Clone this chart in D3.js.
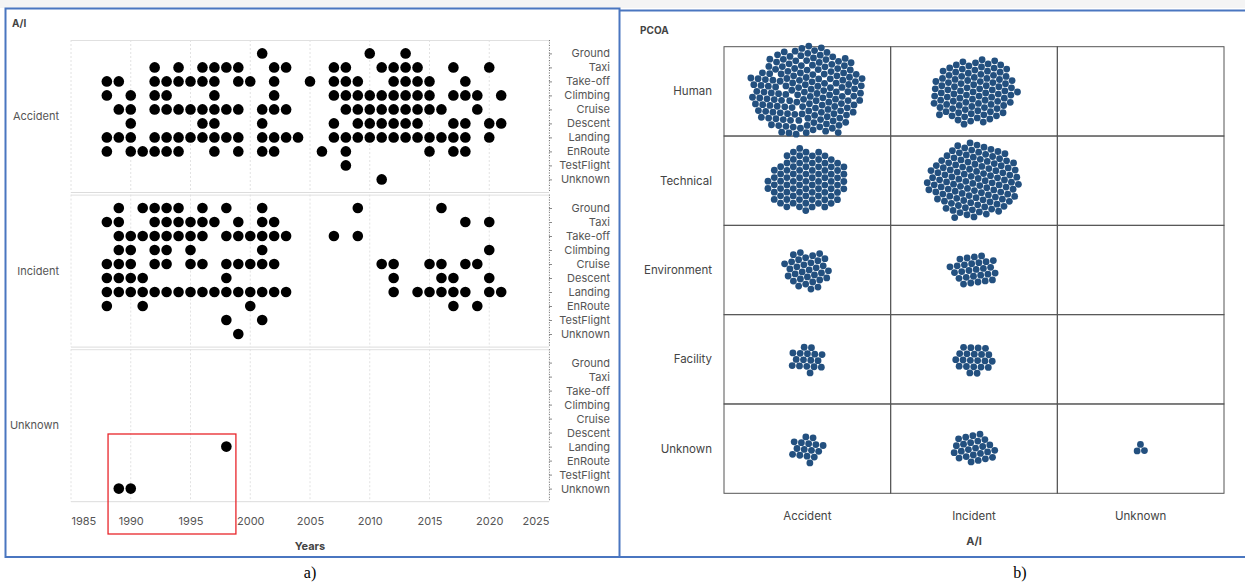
<!DOCTYPE html>
<html>
<head>
<meta charset="utf-8">
<script src="https://cdn.jsdelivr.net/npm/d3@7"></script>
<style>
  body { margin: 0; background: #fff; }
  text { font-family: Inter, "Noto Sans", sans-serif; }
</style>
</head>
<body>
<svg id="chart" width="1245" height="584"></svg>
<script>
// ---- data ----
var phases = ["Ground", "Taxi", "Take-off", "Climbing", "Cruise", "Descent", "Landing", "EnRoute", "TestFlight", "Unknown"];
var aiTypes = ["Accident", "Incident", "Unknown"];
var yearTicks = [1985, 1990, 1995, 2000, 2005, 2010, 2015, 2020, 2025];

// years with at least one event, one list per phase (same order as phases)
var accidentYears = [
  [2001, 2010, 2013],
  [1992, 1994, 1996, 1997, 1998, 1999, 2002, 2003, 2007, 2008, 2011, 2012, 2013, 2014, 2017, 2020],
  [1988, 1989, 1992, 1993, 1994, 1995, 1996, 1997, 1999, 2000, 2002, 2005, 2007, 2008, 2009, 2012, 2013, 2014, 2015, 2018],
  [1988, 1990, 1992, 1993, 1997, 2002, 2007, 2008, 2009, 2010, 2011, 2012, 2013, 2014, 2015, 2017, 2018, 2019, 2021],
  [1989, 1990, 1992, 1993, 1994, 1995, 1996, 1997, 1998, 1999, 2001, 2002, 2003, 2008, 2009, 2010, 2011, 2012, 2013, 2014, 2015, 2016, 2019],
  [1990, 1996, 1997, 2001, 2007, 2009, 2010, 2011, 2012, 2013, 2014, 2017, 2018, 2020, 2021],
  [1988, 1989, 1990, 1992, 1993, 1994, 1995, 1996, 1997, 1998, 1999, 2001, 2002, 2003, 2004, 2007, 2008, 2009, 2010, 2011, 2012, 2013, 2014, 2015, 2016, 2017, 2018, 2020],
  [1988, 1990, 1991, 1992, 1993, 1994, 1997, 1999, 2001, 2002, 2006, 2008, 2015, 2017, 2018],
  [2008],
  [2011]
];
var incidentYears = [
  [1989, 1991, 1992, 1993, 1994, 1996, 1998, 2001, 2009, 2016],
  [1988, 1989, 1992, 1993, 1994, 1995, 1996, 1997, 1999, 2001, 2002, 2018, 2020],
  [1989, 1990, 1991, 1992, 1993, 1994, 1995, 1996, 1998, 1999, 2000, 2001, 2002, 2003, 2007, 2009],
  [1989, 1990, 1992, 1993, 1995, 2001, 2020],
  [1988, 1989, 1990, 1992, 1993, 1995, 1996, 1998, 1999, 2000, 2001, 2002, 2011, 2012, 2015, 2016, 2018, 2019],
  [1988, 1989, 1990, 1991, 1998, 2012, 2016, 2017, 2020],
  [1988, 1989, 1990, 1991, 1992, 1993, 1994, 1995, 1996, 1997, 1998, 1999, 2000, 2001, 2002, 2003, 2012, 2014, 2015, 2016, 2017, 2018, 2020, 2021],
  [1988, 1991, 2000, 2017, 2019],
  [1998, 2001],
  [1999]
];
var unknownYears = [
  [], [], [], [], [], [], [1998], [], [], [1989, 1990]
];

var pcoaFactors = ["Human", "Technical", "Environment", "Facility", "Unknown"];
// number of reports per factor (rows) and A/I (columns: Accident, Incident, Unknown)
var pcoaCounts = [
  [172, 100, 0],
  [88, 122, 0],
  [33, 28, 0],
  [17, 22, 0],
  [16, 25, 3]
];

var svg = d3.select("#chart");

// ---- frames and captions ----
svg.append("rect").attr("x", 0).attr("y", 0).attr("width", 1245).attr("height", 8).attr("fill", "#f4f4f4");
svg.append("rect")
  .attr("x", 5.5).attr("y", 8.5).attr("width", 614).attr("height", 548.5)
  .attr("fill", "none").attr("stroke", "#4a76c0").attr("stroke-width", 2);
svg.append("path")
  .attr("d", "M619.5,10.5 H1250 M619.5,557 H1250")
  .attr("fill", "none").attr("stroke", "#4a76c0").attr("stroke-width", 2);

svg.append("text").attr("x", 310).attr("y", 578).attr("text-anchor", "middle")
  .style("font-family", "'Liberation Serif', serif").style("font-size", "16px").text("a)");
svg.append("text").attr("x", 1020).attr("y", 578).attr("text-anchor", "middle")
  .style("font-family", "'Liberation Serif', serif").style("font-size", "16px").text("b)");

// ---- panel a: years x phase, faceted by A/I ----
var xScale = d3.scaleLinear().domain([1985, 2025]).range([71, 549]);
var facetScale = d3.scaleBand().domain(aiTypes).range([40, 501.7]).paddingInner(0.0136);
var phaseScale = d3.scalePoint().domain(phases).range([13.4, 139.4]);
var facetYears = [accidentYears, incidentYears, unknownYears];

svg.append("text").attr("x", 12).attr("y", 27)
  .style("font-size", "10px").style("font-weight", "bold").attr("fill", "#444").text("A/I");

aiTypes.forEach(function(ai, i) {
  var top = facetScale(ai);
  var h = facetScale.bandwidth();
  var g = svg.append("g").attr("transform", "translate(0," + top + ")");

  // grid
  g.selectAll(".vgrid")
    .data(yearTicks)
    .enter()
    .append("line")
    .attr("x1", function(d) { return xScale(d) }).attr("x2", function(d) { return xScale(d) })
    .attr("y1", 0).attr("y2", h)
    .attr("stroke", "#e2e2e2").attr("stroke-dasharray", "2,2");
  g.append("line").attr("x1", 71).attr("x2", 549).attr("y1", 0.5).attr("y2", 0.5).attr("stroke", "#e0e0e0");
  g.append("line").attr("x1", 71).attr("x2", 549).attr("y1", h).attr("y2", h).attr("stroke", "#dcdcdc");

  // facet label
  g.append("text").attr("x", 59).attr("y", h / 2 + 4).attr("text-anchor", "end")
    .style("font-size", "11px").attr("fill", "#555").text(ai);

  // right axis
  var yAxis = d3.axisRight(phaseScale).tickSize(3).tickPadding(58);
  var ax = g.append("g").attr("transform", "translate(549,0)").call(yAxis);
  ax.select(".domain").attr("d", "M0.5,0V" + h).attr("stroke", "#777").attr("stroke-dasharray", "1,1.5");
  ax.selectAll(".tick line").attr("stroke", "#888");
  ax.selectAll("text").attr("text-anchor", "end")
    .style("font-size", "11px").style("font-family", "Inter, 'Noto Sans', sans-serif").attr("fill", "#555");

  // points
  var pts = [];
  facetYears[i].forEach(function(years, p) {
    years.forEach(function(y) { pts.push({ year: y, phase: phases[p] }) });
  });
  g.selectAll("circle")
    .data(pts)
    .enter()
    .append("circle")
    .attr("r", 5.3)
    .attr("cx", function(d) { return xScale(d.year) })
    .attr("cy", function(d) { return phaseScale(d.phase) })
    .attr("fill", "#000");
});

var xAxis = d3.axisBottom(xScale).tickValues(yearTicks).tickFormat(d3.format("d")).tickSize(0).tickPadding(16);
var xg = svg.append("g").attr("transform", "translate(0,501.7)").call(xAxis);
xg.select(".domain").remove();
xg.selectAll("text").style("font-size", "11px").style("font-family", "Inter, 'Noto Sans', sans-serif").attr("fill", "#555")
  .attr("text-anchor", function(d) { return d === 1985 ? "start" : d === 2025 ? "end" : "middle" });
svg.append("text").attr("x", 310).attr("y", 550).attr("text-anchor", "middle")
  .style("font-size", "11px").style("font-weight", "bold").attr("fill", "#444").text("Years");

// highlight box
svg.append("rect")
  .attr("x", xScale(1988.1)).attr("y", 434)
  .attr("width", xScale(1998.8) - xScale(1988.1)).attr("height", 100)
  .attr("fill", "none").attr("stroke", "#e8252a").attr("stroke-width", 1.3);

// ---- panel b: PCOA x A/I beeswarm grid ----
var colScale = d3.scaleBand().domain(aiTypes).range([724, 1224]);
var rowScale = d3.scaleBand().domain(pcoaFactors).range([46.7, 493.3]);

svg.append("text").attr("x", 640).attr("y", 34)
  .style("font-size", "10px").style("font-weight", "bold").attr("fill", "#444").text("PCOA");

pcoaFactors.forEach(function(f, r) {
  aiTypes.forEach(function(ai, c) {
    svg.append("rect")
      .attr("x", colScale(ai)).attr("y", rowScale(f))
      .attr("width", colScale.bandwidth()).attr("height", rowScale.bandwidth())
      .attr("fill", "none").attr("stroke", "#555").attr("stroke-width", 1);
  });
});

pcoaFactors.forEach(function(f, r) {
  aiTypes.forEach(function(ai, c) {
    var n = pcoaCounts[r][c];
    if (!n) return;
    var nodes = d3.range(n).map(function(k) { return { id: k } });
    var sim = d3.forceSimulation(nodes)
      .force("x", d3.forceX(0).strength(0.05))
      .force("y", d3.forceY(0).strength(0.075))
      .force("collide", d3.forceCollide(3.65).iterations(3))
      .stop();
    for (var t = 0; t < 400; t++) sim.tick();
    svg.append("g")
      .attr("transform", "translate(" + (colScale(ai) + colScale.bandwidth() / 2) + "," + (rowScale(f) + rowScale.bandwidth() / 2) + ")")
      .selectAll("circle")
      .data(nodes)
      .enter()
      .append("circle")
      .attr("r", 3.4)
      .attr("cx", function(d) { return d.x })
      .attr("cy", function(d) { return d.y })
      .attr("fill", "#23507f");
  });
});

svg.selectAll(".rowlab")
  .data(pcoaFactors)
  .enter()
  .append("text")
  .attr("x", 712)
  .attr("y", function(d) { return rowScale(d) + rowScale.bandwidth() / 2 + 4 })
  .attr("text-anchor", "end")
  .style("font-size", "11.5px").attr("fill", "#444")
  .text(function(d) { return d });

svg.selectAll(".collab")
  .data(aiTypes)
  .enter()
  .append("text")
  .attr("x", function(d) { return colScale(d) + colScale.bandwidth() / 2 })
  .attr("y", 520)
  .attr("text-anchor", "middle")
  .style("font-size", "11.5px").attr("fill", "#444")
  .text(function(d) { return d });

svg.append("text").attr("x", 974).attr("y", 545).attr("text-anchor", "middle")
  .style("font-size", "11px").style("font-weight", "bold").attr("fill", "#444").text("A/I");
</script>
</body>
</html>
